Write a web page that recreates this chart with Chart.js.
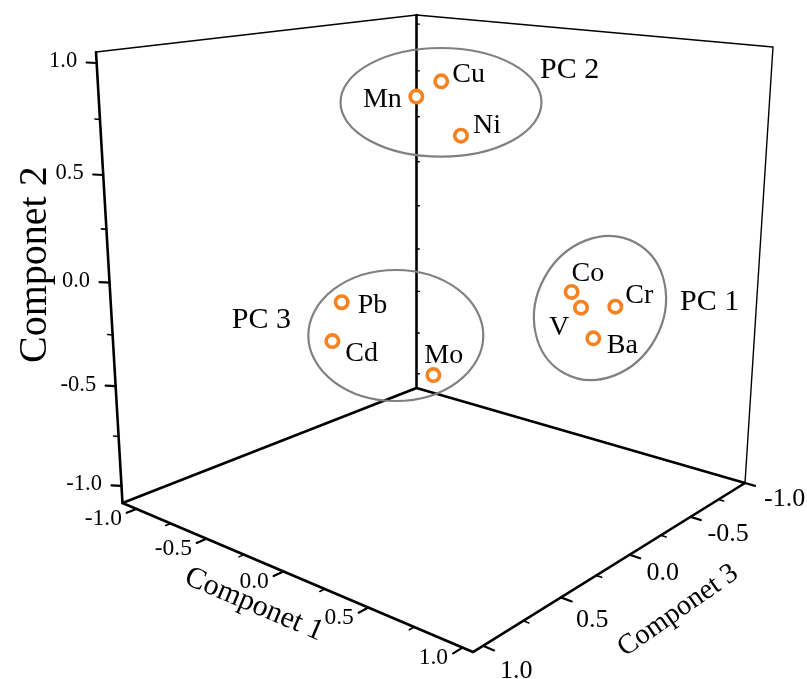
<!DOCTYPE html>
<html>
<head>
<meta charset="utf-8">
<title>Component plot</title>
<style>
  html, body { margin: 0; background: #fff; }
  canvas { display: block; }
</style>
<script src="https://cdn.jsdelivr.net/npm/chart.js@4/dist/chart.umd.min.js"></script>
</head>
<body>
<canvas id="loadings" width="807" height="679"></canvas>
<script>
// loadings
const elements = ['Mn', 'Cu', 'Ni', 'Co', 'V', 'Cr', 'Ba', 'Pb', 'Cd', 'Mo'];
const comp1 = [0.032, 0.060, 0.115, 0.793, 0.815, 0.949, 0.968, 0.050, 0.120, 0.250];
const comp2 = [0.869, 0.924, 0.679, 0.094, 0.019, 0.035, -0.057, 0.050, -0.077, -0.328];
const comp3 = [0.250, 0.120, 0.050, 0.120, 0.080, 0.020, 0.200, 0.738, 0.865, 0.383];

const majorTicks = [-1, -0.5, 0, 0.5, 1];
const minorTicks = [-0.75, -0.25, 0.25, 0.75];
const backTicks = [-1, -0.75, -0.5, -0.25, 0, 0.25, 0.5, 0.75, 1];
const tickLabels = ['-1.0', '-0.5', '0.0', '0.5', '1.0'];

// axis ranges, a bit wider than the ticks like the original box
const range1 = [-1.105, 1.052];
const range2 = [-1.088, 1.048];
const range3 = [-1.0, 1.06];

// perspective box: floor and top face corners on the page, plus the foreshortening per axis
const floorFace = { o: [416.5, 388], x: [745, 483], z: [122.5, 503] };
const topFace = { o: [416.5, 15], x: [773, 47], z: [96, 52] };
const foreA = 0.843, foreB = 0.92, foreC = 0.8155;

function facePos(f, u, w, i) {
  return (f.o[i] + u * (foreA * f.x[i] - f.o[i]) + w * (foreC * f.z[i] - f.o[i])) /
    (1 + u * (foreA - 1) + w * (foreC - 1));
}

function project(p, q, s) {
  const u = (p - range1[0]) / (range1[1] - range1[0]);
  const v = (q - range2[0]) / (range2[1] - range2[0]);
  const w = (s - range3[0]) / (range3[1] - range3[0]);
  const t = foreB * v / (1 + v * (foreB - 1));
  const pos = [0, 1].map(i => facePos(floorFace, u, w, i) + t * (facePos(topFace, u, w, i) - facePos(floorFace, u, w, i)));
  return { x: pos[0], y: pos[1] };
}

const gap = { x: NaN, y: NaN };

function shifted(pt, dx, dy) {
  return { x: pt.x + dx, y: pt.y + dy };
}

// tick segments, broken up with gaps
function ticks1(list, len) {
  return list.flatMap(v => [project(v, range2[0], range3[1]), project(v, range2[0], range3[1] + len), gap]);
}
function ticks3(list, len) {
  return list.flatMap(v => [project(range1[1], range2[0], v), project(range1[1] + len, range2[0], v), gap]);
}
function ticks2(list, len) {
  return list.flatMap(v => {
    const pt = project(range1[0], v, range3[1]);
    return [pt, shifted(pt, -len, -0.5), gap];
  });
}
function ticksBack(list) {
  return list.flatMap(v => {
    const pt = project(range1[0], v, range3[0]);
    return [pt, shifted(pt, 2.8, 0), gap];
  });
}

function lineSet(data, width, order) {
  return {
    type: 'scatter', data, showLine: true, pointRadius: 0, borderColor: '#000', backgroundColor: '#000',
    borderWidth: width, borderCapStyle: 'round', borderJoinStyle: 'round', spanGaps: false, order: order || 2
  };
}

const back0 = project(range1[0], range2[0], range3[0]);
const left0 = project(range1[0], range2[0], range3[1]);
const right0 = project(range1[1], range2[0], range3[0]);
const front0 = project(range1[1], range2[0], range3[1]);
const back1 = project(range1[0], range2[1], range3[0]);
const left1 = project(range1[0], range2[1], range3[1]);
const right1 = project(range1[1], range2[1], range3[0]);

const points = elements.map((e, i) => project(comp1[i], comp2[i], comp3[i]));

// text placed relative to the point, [dx, dy, align]
const labelPlace = [
  [-14.5, 10, 'right'], [11, 1, 'left'], [12, -3, 'left'], [0, -11, 'left'], [-32, 27, 'left'],
  [10, -4, 'left'], [13.5, 15, 'left'], [16, 11, 'left'], [13, 20, 'left'], [-9, -12, 'left']
];

// the Component 3 numbers drift away from the axis towards the front
const axis3LabelDx = [19, 17, 17, 15, 17];
const axis3LabelDy = [16, 17, 18.5, 23, 25];

// group rings and their names, plain annotations on top of the plot
const rings = [
  { cx: 441, cy: 102.3, rx: 100.5, ry: 54.3, rot: 0 },
  { cx: 600, cy: 308, rx: 74.4, ry: 63.3, rot: -61.3 },
  { cx: 395.8, cy: 335.5, rx: 87.5, ry: 65.5, rot: 0 }
];
const groupNames = [['PC 2', 540, 78], ['PC 1', 680, 310], ['PC 3', 231.7, 327.7]];

const serif = '"Liberation Serif", "Times New Roman", serif';

const overlay = {
  id: 'overlay',
  afterDatasetsDraw(chart) {
    const g = chart.ctx;
    const sx = chart.scales.x, sy = chart.scales.y;
    const px = pt => [sx.getPixelForValue(pt.x), sy.getPixelForValue(pt.y)];

    function text(str, x, y, font, align, baseline, rot) {
      g.save();
      g.translate(x, y);
      if (rot) g.rotate(rot * Math.PI / 180);
      g.font = font + ' ' + serif;
      g.textAlign = align;
      g.textBaseline = baseline;
      g.fillStyle = '#000';
      g.fillText(str, 0, 0);
      g.restore();
    }

    g.save();
    g.strokeStyle = '#808080';
    g.lineWidth = 2.2;
    rings.forEach(r => {
      g.beginPath();
      g.ellipse(sx.getPixelForValue(r.cx), sy.getPixelForValue(r.cy), r.rx, r.ry, r.rot * Math.PI / 180, 0, Math.PI * 2);
      g.stroke();
    });
    g.restore();

    majorTicks.forEach((v, i) => {
      const [x2, y2] = px(project(range1[0], v, range3[1]));
      text(tickLabels[i], x2 - 19.5, y2 - 1.5, '22.5px', 'right', 'middle');
      const [x1, y1] = px(project(v, range2[0], range3[1]));
      text(tickLabels[i], x1 - 14.5, y1 + 10, '23.5px', 'right', 'middle');
      const [x3, y3] = px(project(range1[1], range2[0], v));
      text(tickLabels[i], x3 + axis3LabelDx[i], y3 + axis3LabelDy[i], '26px', 'left', 'middle');
    });

    text('Componet 2', 46, 363, '40px', 'left', 'alphabetic', -90);
    text('Componet 1', 183, 583, '30px', 'left', 'alphabetic', 23);
    text('Componet 3', 625, 657, '28.5px', 'left', 'alphabetic', -35);

    elements.forEach((e, i) => {
      const [x, y] = px(points[i]);
      const [dx, dy, align] = labelPlace[i];
      text(e, x + dx, y + dy, '28px', align, 'alphabetic');
    });
    groupNames.forEach(n => text(n[0], n[1], n[2], '30px', 'left', 'alphabetic'));
  }
};

new Chart(document.getElementById('loadings'), {
  type: 'scatter',
  data: {
    datasets: [
      {
        label: 'Loadings', data: points, pointStyle: 'circle', pointRadius: 6.2, pointBorderWidth: 3.6,
        pointBorderColor: '#F5821F', pointBackgroundColor: '#fff', showLine: false, order: 0
      },
      lineSet([left0, back0, right0, front0, left0], 2.6),
      lineSet([left1, left0], 2.6),
      lineSet([back1, back0], 2.6),
      lineSet([left1, back1, right1, right0], 1.4),
      lineSet(ticks1(majorTicks, 0.055), 2.2),
      lineSet(ticks1(minorTicks, 0.028), 1.6),
      lineSet(ticks3(majorTicks, 0.055), 2.2),
      lineSet(ticks3(minorTicks, 0.028), 1.6),
      lineSet(ticks2(majorTicks, 10), 2.2),
      lineSet(ticks2(minorTicks, 5), 1.6),
      lineSet(ticksBack(backTicks), 1.4)
    ]
  },
  options: {
    responsive: false,
    animation: false,
    layout: { padding: 0, autoPadding: false },
    plugins: { legend: { display: false }, tooltip: { enabled: false } },
    scales: {
      x: { type: 'linear', display: false, min: 0, max: 807 },
      y: { type: 'linear', display: false, min: 0, max: 679, reverse: true }
    }
  },
  plugins: [overlay]
});
</script>
</body>
</html>
